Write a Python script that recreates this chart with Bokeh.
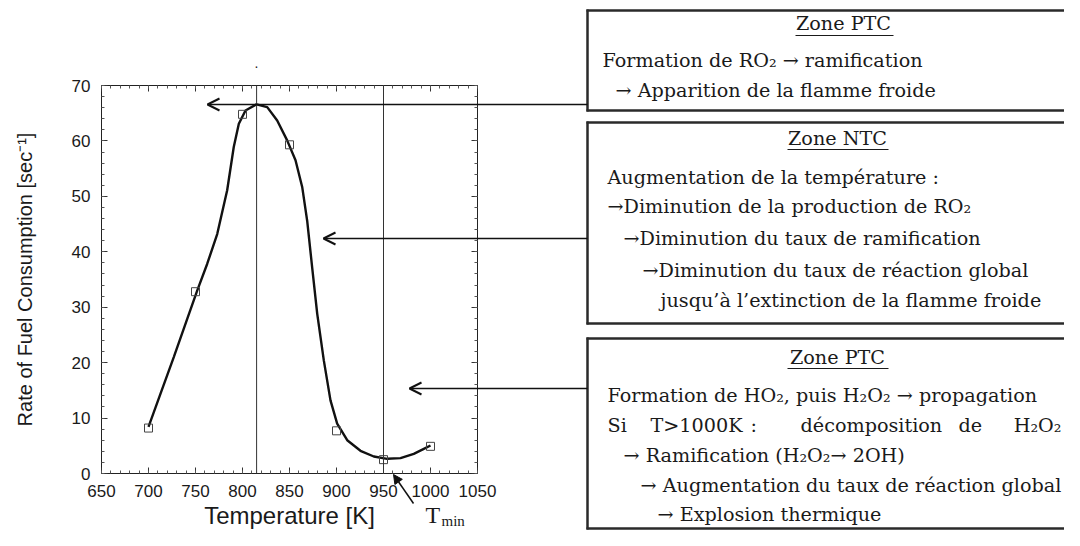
from bokeh.plotting import figure
from bokeh.models import (Arrow, OpenHead, NormalHead, Span, FixedTicker, LinearAxis,
                          Range1d, GridBox)
from bokeh.core.properties import value
from bokeh.embed import file_html
from bokeh.resources import INLINE

# ---------------- data ----------------
temps = [700, 750, 800, 850, 900, 950, 1000]
rates = [8.2, 32.8, 64.8, 59.3, 7.7, 2.5, 4.9]

curve_t = [700, 712.8, 726.9, 741.2, 751.8, 762.4, 773.1, 783.7, 790.7, 796.1, 803.2,
           814.9, 826.3, 836.9, 847.5, 856.4, 863.5, 868.8, 874.1, 879.5, 886.5,
           893.6, 900.7, 911.4, 925.5, 939.7, 953.9, 968.1, 982.2, 992.9, 1000]
curve_r = [8.4, 14.4, 21.0, 27.9, 33.0, 37.8, 43.2, 51.1, 58.9, 63.1, 65.5,
           66.6, 66.1, 63.7, 60.1, 56.5, 51.7, 45.6, 37.2, 28.8, 20.4,
           13.2, 9.0, 6.0, 4.1, 3.07, 2.65, 2.77, 3.55, 4.45, 5.05]

ref_temps = [815, 950]
x_ticks = [650, 700, 750, 800, 850, 900, 950, 1000, 1050]
y_ticks = [0, 10, 20, 30, 40, 50, 60, 70]
x_minor = list(range(650, 1051, 10))
y_minor = list(range(0, 71, 2))

x_title = "Temperature [K]"
y_title = "Rate of Fuel Consumption [sec\u207b\u00b9]"

box1_title = "Zone PTC"
box1_lines = ["Formation de RO\u2082 \u2192 ramification",
              "\u2192 Apparition de la flamme froide"]
box2_title = "Zone NTC"
box2_lines = ["Augmentation de la temp\u00e9rature :",
              "\u2192Diminution de la production de RO\u2082",
              "\u2192Diminution du taux de ramification",
              "\u2192Diminution du taux de r\u00e9action global",
              "jusqu\u2019\u00e0 l\u2019extinction de la flamme froide"]
box3_title = "Zone PTC"
box3_line1 = "Formation de HO\u2082, puis H\u2082O\u2082 \u2192 propagation"
box3_line2_words = ["Si", "T>1000K", ":", "d\u00e9composition", "de"]
box3_line2_last = "H\u2082O\u2082"
box3_lines_rest = ["\u2192 Ramification (H\u2082O\u2082\u2192 2OH)",
                   "\u2192 Augmentation du taux de r\u00e9action global",
                   "\u2192 Explosion thermique"]

W, H = 1064, 530
X0, X1, Y0, Y1 = 650, 1050, 0, 70
FL, FR, FT, FB = 101, 477, 85, 473   # frame edges in pixels

SANS = "Liberation Sans"
SERIF = "DejaVu Serif"
SER = "19.2px"
TXT = "#1a1a1a"

# ---------------- chart figure ----------------
p = figure(width=W, height=H, x_range=Range1d(X0, X1), y_range=Range1d(Y0, Y1),
           output_backend="svg", toolbar_location=None, frame_align=False,
           min_border_left=FL, min_border_right=W - FR, min_border_top=FT,
           min_border_bottom=H - FB)
p.grid.visible = False
p.outline_line_color = "#222222"
p.outline_line_width = 1
p.background_fill_color = "white"
p.border_fill_color = "white"

xt = FixedTicker(ticks=x_ticks, minor_ticks=x_minor)
yt = FixedTicker(ticks=y_ticks, minor_ticks=y_minor)

for ax, tk in ((p.xaxis[0], xt), (p.yaxis[0], yt)):
    ax.ticker = tk
    ax.axis_line_color = None
    ax.major_tick_in = 6
    ax.major_tick_out = 0
    ax.minor_tick_in = 3
    ax.minor_tick_out = 0
    ax.major_tick_line_color = "#333333"
    ax.minor_tick_line_color = "#555555"
    ax.major_label_text_font = SANS
    ax.major_label_text_font_size = "17px"
    ax.major_label_text_color = TXT
    ax.major_label_standoff = 11

p.yaxis.axis_label = y_title
p.yaxis.axis_label_text_font = SANS
p.yaxis.axis_label_text_font_size = "20px"
p.yaxis.axis_label_text_font_style = "normal"
p.yaxis.axis_label_text_color = TXT
p.yaxis.axis_label_standoff = 33

for loc, tk, ticks in (("above", xt, x_ticks), ("right", yt, y_ticks)):
    ax = LinearAxis(ticker=tk, axis_line_color=None, major_tick_in=6, major_tick_out=0,
                    minor_tick_in=3, minor_tick_out=0, major_tick_line_color="#333333",
                    minor_tick_line_color="#555555", major_label_standoff=0,
                    major_label_overrides={t: "" for t in ticks})
    p.add_layout(ax, loc)

for t in ref_temps:
    p.add_layout(Span(location=t, dimension="height", line_color="#333333", line_width=1))

p.line(curve_t, curve_r, line_color="#111111", line_width=2.4)
p.scatter(temps, rates, marker="square", size=8, fill_color=None,
          line_color="#444444", line_width=1)

# ---------------- overlay figure for the annotation boxes (pixel space) ----------------
q = figure(width=W, height=H, x_range=Range1d(0, W), y_range=Range1d(H, 0),
           output_backend="svg", toolbar_location=None, min_border=0, frame_align=False,
           x_axis_location=None, y_axis_location=None)
q.grid.visible = False
q.outline_line_color = None
q.background_fill_alpha = 0
q.border_fill_alpha = 0


def txt(xs, ys, ss, size=SER, font=SERIF, align="left", baseline="middle"):
    q.text(x=xs, y=ys, text=ss, text_font=value(font), text_font_size=value(size),
           text_align=align, text_baseline=baseline, text_color=TXT)


# x axis title and T_min marker
txt([289], [515], [x_title], size="24px", font=SANS, align="center")
txt([425], [514], ["T"], size="24px", font="Liberation Serif")
txt([441], [520], ["min"], size="15px", font="Liberation Serif")
q.add_layout(Arrow(end=NormalHead(size=9, fill_color="#111111", line_color="#111111"),
                   x_start=413, y_start=503, x_end=393, y_end=474,
                   line_width=1.5, line_color="#111111"))
txt([256], [62], ["."], size="14px", font=SANS, align="center")

# boxes (open to the right: they run past the edge of the picture)
tops = [10, 122, 338]
bottoms = [110, 323, 528]
q.segment(x0=[586] * 6, y0=tops + bottoms, x1=[W] * 6, y1=tops + bottoms,
          line_color="#2a2a2a", line_width=2.5)
q.segment(x0=[587] * 3, y0=[t - 1 for t in tops], x1=[587] * 3, y1=[b + 1 for b in bottoms],
          line_color="#2a2a2a", line_width=2.5)

# arrows from the boxes to the curve
for yy, xtip in ((104, 207), (238, 323), (388, 409)):
    q.add_layout(Arrow(end=OpenHead(size=12, line_width=2, line_color="#111111"),
                       x_start=587, y_start=yy, x_end=xtip, y_end=yy,
                       line_width=1.5, line_color="#111111"))

# titles with underline
txt([843, 837, 837], [23, 138, 357], [box1_title, box2_title, box3_title], align="center")
q.segment(x0=[795, 787, 787], y0=[35, 149, 368], x1=[893, 888, 888], y1=[35, 149, 368],
          line_color=TXT, line_width=1)

txt([602, 615], [60, 90], box1_lines)
txt([607, 607, 623, 642, 660], [177, 206, 238, 270, 300], box2_lines)
txt([607], [395], [box3_line1])
txt([607, 650, 750, 800, 958], [425] * 5, box3_line2_words)
txt([1061], [425], [box3_line2_last], align="right")
txt([623, 640, 657], [455, 485, 514], box3_lines_rest)

layout = GridBox(children=[(p, 0, 0), (q, 0, 0)], spacing=0)
open("out.html", "w").write(file_html(layout, INLINE))
